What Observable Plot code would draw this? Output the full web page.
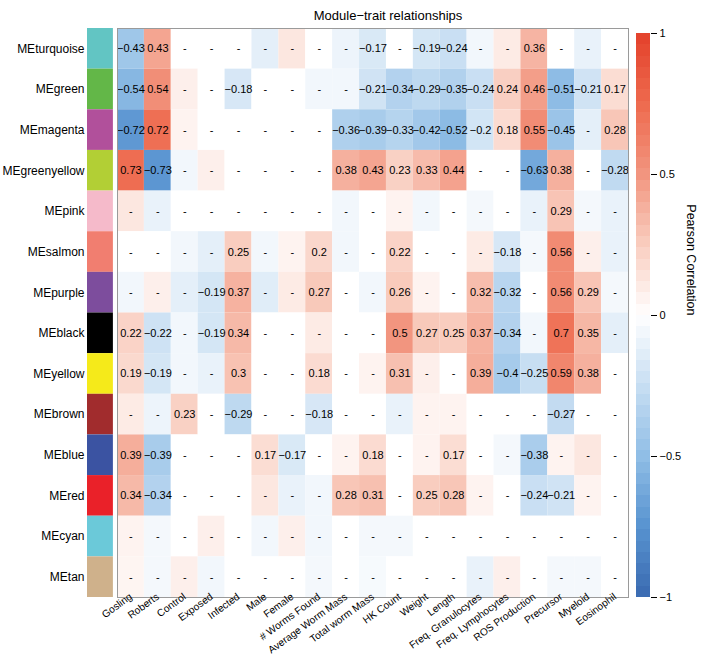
<!DOCTYPE html>
<html><head><meta charset="utf-8">
<script src="https://cdn.jsdelivr.net/npm/d3@7"></script>
<script src="https://cdn.jsdelivr.net/npm/@observablehq/plot@0.6"></script>
<style>
body{margin:0;background:#fff;}
#wrap{position:relative;width:708px;height:656px;font-family:"Liberation Sans",Arial,sans-serif;}
#wrap svg{position:absolute;top:0;overflow:visible;}
</style></head><body><div id="wrap"></div>
<script>
const title = "Module\u2212trait relationships";
const legendTitle = "Pearson Correlation";
const traits = ["Gosling","Roberts","Control","Exposed","Infected","Male","Female","# Worms Found","Average Worm Mass","Total worm Mass","HK Count","Weight","Length","Freq. Granulocytes","Freq. Lymphocytes","ROS Production","Precursor","Myeloid","Eosinophil"];
const modules = ["MEturquoise","MEgreen","MEmagenta","MEgreenyellow","MEpink","MEsalmon","MEpurple","MEblack","MEyellow","MEbrown","MEblue","MEred","MEcyan","MEtan"];
const moduleColors = ["#62C5C3","#63B748","#B1509B","#B2CF35","#F5BACA","#F17E70","#7D4D9D","#000000","#F5EA1A","#A12C2D","#3B53A2","#EA2129","#6BC9D9","#CFB18B"];
const legendTicks = [-1,-0.5,0,0.5,1];

// correlations (colour) per module row, in trait order
const turquoise   = [-0.43, 0.43, 0, 0, 0, -0.12, 0.12, 0, -0.08, -0.17, 0, -0.19, -0.24, -0.06, 0.1, 0.36, 0, -0.1, 0];
const green       = [-0.54, 0.54, 0.08, 0, -0.18, 0, 0, -0.06, -0.06, -0.21, -0.34, -0.29, -0.35, -0.24, 0.24, 0.46, -0.51, -0.21, 0.17];
const magenta     = [-0.72, 0.72, 0.06, 0, 0, 0, 0, 0, -0.36, -0.39, -0.33, -0.42, -0.52, -0.2, 0.18, 0.55, -0.45, -0.12, 0.28];
const greenyellow = [0.73, -0.73, -0.06, 0.08, 0, 0, 0, 0, 0.38, 0.43, 0.23, 0.33, 0.44, 0, 0, -0.63, 0.38, 0, -0.28];
const pink        = [0.12, -0.1, 0, 0, 0, 0, 0, 0, -0.06, 0, 0.06, -0.06, 0, -0.05, 0, -0.1, 0.29, -0.05, -0.1];
const salmon      = [0, 0, -0.06, -0.12, 0.25, -0.06, 0.06, 0.2, -0.06, 0, 0.22, 0, 0, 0.1, -0.18, -0.05, 0.56, 0.08, -0.1];
const purple      = [-0.06, 0.08, -0.12, -0.19, 0.37, -0.14, 0.1, 0.27, 0, -0.06, 0.26, 0.06, 0, 0.32, -0.32, 0, 0.56, 0.29, -0.05];
const black       = [0.22, -0.22, -0.06, -0.19, 0.34, 0, 0, 0.1, 0, 0, 0.5, 0.27, 0.25, 0.37, -0.34, -0.06, 0.7, 0.35, -0.12];
const yellow      = [0.19, -0.19, -0.06, -0.1, 0.3, 0, 0, 0.18, 0, 0.06, 0.31, 0.08, 0, 0.39, -0.4, -0.25, 0.59, 0.38, 0];
const brown       = [0.1, -0.08, 0.23, 0, -0.29, 0, 0, -0.18, 0, 0, -0.1, 0.06, 0.06, 0, 0, 0, -0.27, 0, 0];
const blue        = [0.39, -0.39, 0, 0, 0, 0.17, -0.17, 0, 0.06, 0.18, 0, 0.06, 0.17, 0, -0.05, -0.38, 0.06, 0.12, 0];
const red         = [0.34, -0.34, 0, 0, 0, 0.12, -0.1, -0.06, 0.28, 0.31, 0, 0.25, 0.28, 0.06, 0, -0.24, -0.21, 0.06, 0];
const cyan        = [0.06, -0.05, 0, 0.08, 0, -0.06, 0.08, -0.06, 0, -0.05, -0.05, 0, 0, 0, 0, 0, 0, 0, 0];
const tan         = [0.05, -0.05, 0.08, -0.06, 0, 0, 0, -0.05, 0, -0.04, 0, 0, 0, -0.1, 0.08, 0, -0.05, -0.05, 0];

// trait indices whose value is printed (others show "-")
const sigTurquoise = [0,1,9,11,12,15];
const sigGreen = [0,1,4,9,10,11,12,13,14,15,16,17,18];
const sigMagenta = [0,1,8,9,10,11,12,13,14,15,16,18];
const sigGreenyellow = [0,1,8,9,10,11,12,15,16,18];
const sigPink = [16];
const sigSalmon = [4,7,10,14,16];
const sigPurple = [3,4,7,10,13,14,16,17];
const sigBlack = [0,1,3,4,10,11,12,13,14,16,17];
const sigYellow = [0,1,4,7,10,13,14,15,16,17];
const sigBrown = [2,4,7,16];
const sigBlue = [0,1,5,6,9,12,15];
const sigRed = [0,1,8,9,11,12,15,16];
const sigCyan = [];
const sigTan = [];

const rowValues = [turquoise,green,magenta,greenyellow,pink,salmon,purple,black,yellow,brown,blue,red,cyan,tan];
const rowSig = [sigTurquoise,sigGreen,sigMagenta,sigGreenyellow,sigPink,sigSalmon,sigPurple,sigBlack,sigYellow,sigBrown,sigBlue,sigRed,sigCyan,sigTan];

const fmt = v => String(v).replace("-", "\u2212");
const data = [];
modules.forEach((m, i) => {
  rowValues[i].forEach((v, j) => {
    data.push({module: m, trait: traits[j], value: v, label: rowSig[i].includes(j) ? fmt(v) : "-"});
  });
});

const colorStops = [-1, -0.75, -0.5, -0.25, 0, 0.25, 0.5, 0.75, 1];
const colorRange = ["#3A6AB0", "#5893D0", "#90BEE6", "#C7DEF2", "#FFFFFF", "#F9CDBF", "#F2957F", "#EE6A4E", "#E3412B"];
const colorScale = {type: "linear", domain: colorStops, range: colorRange, interpolate: "rgb"};
const font = "'Liberation Sans', Arial, sans-serif";

const main = Plot.plot({
  width: 708, height: 656,
  marginLeft: 117, marginRight: 80, marginTop: 28, marginBottom: 59,
  style: {fontFamily: font, fontSize: "12px", background: "transparent", color: "#000"},
  x: {domain: traits, padding: 0, round: false, label: null},
  y: {domain: modules, padding: 0, round: false, label: null},
  color: colorScale,
  marks: [
    Plot.cell(data, {x: "trait", y: "module", fill: "value"}),
    Plot.text(data, {x: "trait", y: "module", text: "label", fontSize: 11, fill: "#000"}),
    ...modules.map((m, i) => Plot.cell([m], {x: () => traits[0], y: d => d, fill: moduleColors[i], dx: -30, insetRight: 1})),
    Plot.frame({stroke: "#9a9a9a"}),
    Plot.axisX({tickRotate: -36, tickSize: 0, tickPadding: 0, dy: -2, fontSize: 10.2, label: null}),
    Plot.axisY({tickSize: 0, tickPadding: 33, fontSize: 12, label: null}),
    Plot.text([title], {frameAnchor: "top", dy: -18, dx: 15, fontSize: 13})
  ]
});

const bins = d3.range(50).map(i => ({lo: -1 + i * 0.04, hi: -1 + (i + 1) * 0.04, mid: -1 + (i + 0.5) * 0.04}));
const bar = Plot.plot({
  width: 80, height: 656,
  marginLeft: 8, marginRight: 58, marginTop: 33, marginBottom: 59,
  style: {fontFamily: font, fontSize: "11px", background: "transparent", color: "#000"},
  y: {domain: [-1, 1], label: null},
  color: colorScale,
  marks: [
    Plot.barY(bins, {y1: "lo", y2: "hi", fill: "mid", shapeRendering: "crispEdges"}),
    Plot.axisY({anchor: "right", ticks: legendTicks, tickSize: 6, tickPadding: 3, fontSize: 11, label: null,
      tickFormat: d => d === 0 ? "0" : fmt(d)}),
    Plot.text([legendTitle], {frameAnchor: "right", dx: 40, rotate: 90, fontSize: 12.5})
  ]
});
bar.style.left = "628px";
main.style.left = "0px";
const wrap = document.getElementById("wrap");
wrap.appendChild(main);
wrap.appendChild(bar);
</script></body></html>
